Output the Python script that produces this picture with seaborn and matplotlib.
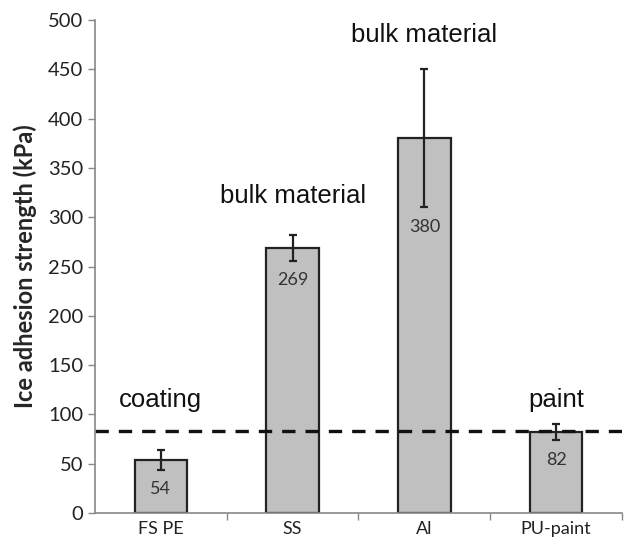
import matplotlib

matplotlib.use("Agg")
import matplotlib.pyplot as plt
import numpy as np
import pandas as pd
import seaborn as sns

categories = ["FS PE", "SS", "Al", "PU-paint"]
strength = [54, 269, 380, 82]
errors = [10, 13, 70, 8]
notes = ["coating", "bulk material", "bulk material", "paint"]
note_heights = [115, 322, 485, 115]
reference_level = 83

df = pd.DataFrame({"material": categories, "strength": strength})

sns.set_theme(style="white")
plt.rcParams["font.family"] = ["Lato", "DejaVu Sans"]

fig = plt.figure(figsize=(6.27, 5.42), dpi=100)
ax = fig.add_axes([0.1515, 0.0535, 0.8405, 0.9095])

sns.barplot(data=df, x="material", y="strength", color="#c0c0c0",
            edgecolor="#222222", linewidth=1.6, width=0.4, ax=ax, errorbar=None,
            saturation=1)
x = np.arange(len(categories))
ax.errorbar(x, strength, yerr=errors, fmt="none", ecolor="#222222",
            elinewidth=1.6, capsize=3, capthick=1.6)

for xi, val, err in zip(x, strength, errors):
    ax.text(xi, val - err - 20, str(val), ha="center", va="center",
            fontsize=13, color="#333333")

for xi, note, h in zip(x, notes, note_heights):
    ax.text(xi, h, note, ha="center", va="center", fontsize=18.5,
            family=["Liberation Sans", "DejaVu Sans"], color="#111111")

ax.axhline(reference_level, color="#111111", linestyle=(0, (4, 3)), linewidth=2.4)

ax.set_xlim(-0.5, 3.5)
ax.set_ylim(0, 500)
ax.set_yticks(range(0, 501, 50))
ax.set_xlabel("")
ax.set_ylabel("Ice adhesion strength (kPa)", fontsize=17, fontweight="bold",
              labelpad=8)
ax.tick_params(axis="y", labelsize=14.5, length=5, direction="out",
               color="#888888", width=1, left=True, labelcolor="#222222")
ax.tick_params(axis="x", labelsize=13, length=0, pad=6, labelcolor="#222222")
ax.set_xticks([0.5, 1.5, 2.5, 3.5], minor=True)
ax.tick_params(axis="x", which="minor", length=5, color="#888888", bottom=True)

for side in ["top", "right"]:
    ax.spines[side].set_visible(False)
for side in ["left", "bottom"]:
    ax.spines[side].set_color("#888888")
    ax.spines[side].set_linewidth(1.2)

fig.savefig("out.png", dpi=100)
